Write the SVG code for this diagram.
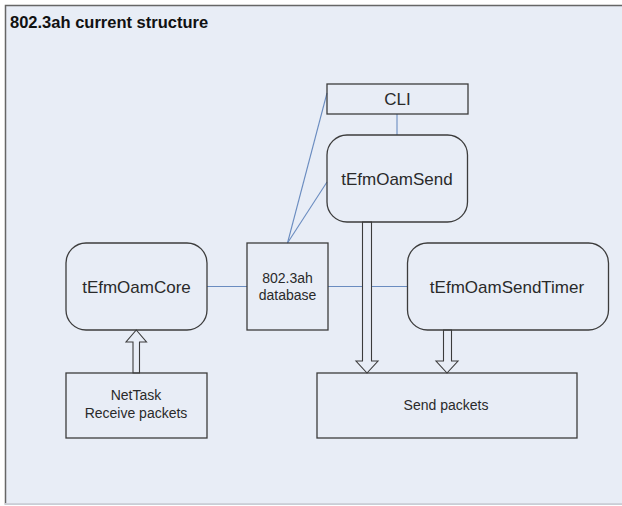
<svg xmlns="http://www.w3.org/2000/svg" width="622" height="506" viewBox="0 0 622 506">
<style>
.box{fill:none;stroke:#3c3c3c;stroke-width:1.3}
.link{stroke:#6a8cc0;stroke-width:1.1;fill:none}
.arrow{fill:#e8edf6;stroke:#3c3c3c;stroke-width:1.1;stroke-linejoin:miter}
text{font-family:"Liberation Sans",Arial,sans-serif;fill:#2a2a2a;text-anchor:middle}
.big{font-size:17px}
.small{font-size:14px}
.title{font-size:16.5px;font-weight:bold;text-anchor:start;fill:#111}
</style>
<rect x="0" y="0" width="622" height="506" fill="#ffffff"/>
<rect x="5.5" y="5.5" width="640" height="498.5" fill="#e8edf6" stroke="#666" stroke-width="1.5"/>
<line x1="5" y1="504" x2="622" y2="504" stroke="#e8edf6" stroke-width="1.5"/>
<line x1="5" y1="504.5" x2="622" y2="504.5" stroke="#c9ced6" stroke-width="1"/>
<text class="title" x="10" y="28">802.3ah current structure</text>
<g id="connectors">
<line class="link" x1="397" y1="114" x2="397" y2="135"/>
<line class="link" x1="287.5" y1="243" x2="327" y2="93"/>
<line class="link" x1="287.5" y1="243" x2="327" y2="182"/>
<line class="link" x1="207" y1="286.5" x2="247" y2="286.5"/>
<line class="link" x1="328" y1="286.5" x2="407" y2="286.5"/>
<path class="arrow" d="M362.5,222 L371.5,222 L371.5,361 L378,361 L367,373 L356,361 L362.5,361 Z"/>
<path class="arrow" d="M443.5,330 L451.5,330 L451.5,361 L458,361 L447,373 L436,361 L443.5,361 Z"/>
<path class="arrow" d="M133,373 L139.5,373 L139.5,342 L146.5,342 L136.25,330 L126,342 L133,342 Z"/>
</g>
<g id="cli">
<rect class="box" x="327" y="84" width="141" height="30"/>
<text class="big" x="397.5" y="105">CLI</text>
</g>
<g id="tEfmOamSend">
<rect class="box" x="327" y="135" width="140.5" height="87" rx="20" ry="20"/>
<text class="big" x="397" y="184.5">tEfmOamSend</text>
</g>
<g id="tEfmOamCore">
<rect class="box" x="66" y="243" width="141" height="87" rx="20" ry="20"/>
<text class="big" x="136.5" y="292.5">tEfmOamCore</text>
</g>
<g id="database">
<rect class="box" x="247" y="243" width="81" height="87"/>
<text class="small" x="287.5" y="283">802.3ah</text>
<text class="small" x="287.5" y="300">database</text>
</g>
<g id="tEfmOamSendTimer">
<rect class="box" x="407.5" y="243" width="201" height="87" rx="20" ry="20"/>
<text class="big" x="507" y="292.5">tEfmOamSendTimer</text>
</g>
<g id="netTask">
<rect class="box" x="66" y="373" width="141" height="65"/>
<text class="small" x="136" y="400">NetTask</text>
<text class="small" x="136" y="418">Receive packets</text>
</g>
<g id="sendPackets">
<rect class="box" x="317" y="373" width="260" height="65"/>
<text class="small" x="446" y="410">Send packets</text>
</g>
</svg>
